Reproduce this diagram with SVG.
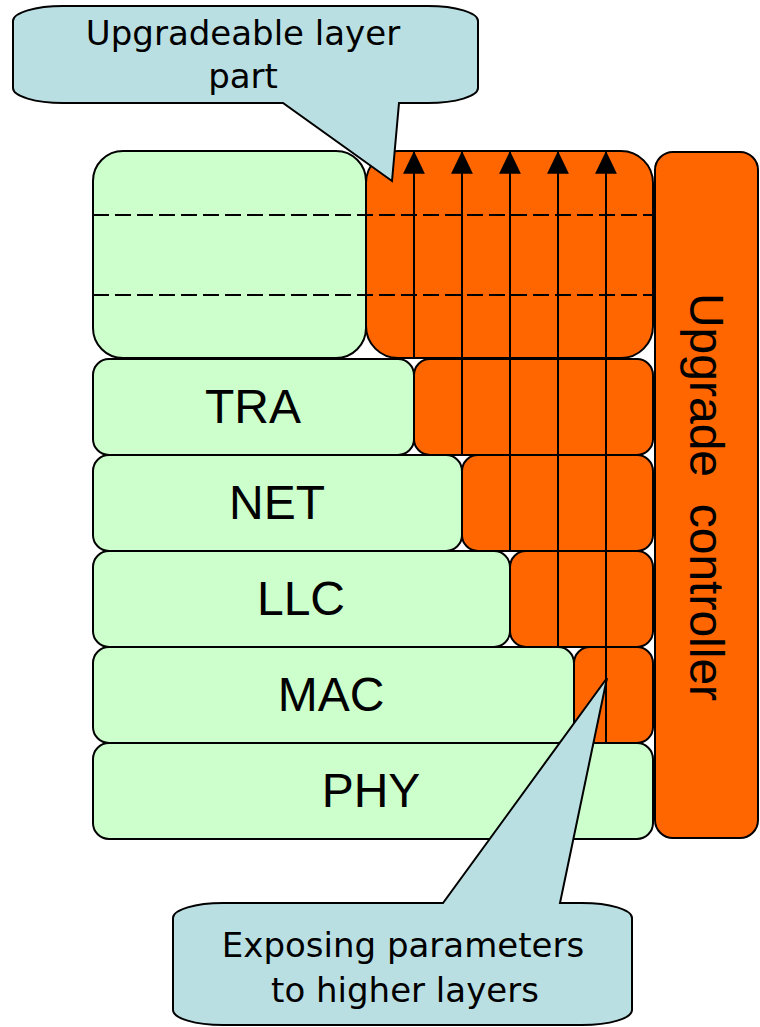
<svg xmlns="http://www.w3.org/2000/svg" width="760" height="1027" viewBox="0 0 760 1027">
<style>
.g{fill:#CCFFCC;stroke:#000;stroke-width:2}
.o{fill:#FF6600;stroke:#000;stroke-width:2}
.c{fill:#B9DFE3;stroke:#000;stroke-width:2}
.lbl{font-family:"Liberation Sans",Arial,sans-serif;font-size:48px;fill:#000;text-anchor:middle}
.ct{font-family:"DejaVu Sans",Verdana,sans-serif;font-size:34px;fill:#000;text-anchor:middle}
.d{stroke:#000;stroke-width:2;stroke-dasharray:16 6;fill:none}
.a{stroke:#000;stroke-width:2;fill:none;marker-end:url(#ah)}
</style>
<defs>
<marker id="ah" markerUnits="userSpaceOnUse" markerWidth="22" markerHeight="24" refX="10" refY="1" orient="0" viewBox="0 0 20 22" overflow="visible">
<path d="M10,0 L20,21 L0,21 Z" fill="#000"/>
</marker>
</defs>
<rect x="0" y="0" width="760" height="1027" fill="#fff"/>
<g id="top-layers">
<rect class="g" x="93" y="151" width="273" height="207" rx="30" ry="30"/>
<rect class="o" x="366" y="151" width="287" height="207" rx="32" ry="32"/>
</g>
<g id="tra">
<rect class="g" x="93" y="359" width="321" height="96" rx="16" ry="16"/>
<rect class="o" x="414" y="359" width="239" height="96" rx="16" ry="16"/>
<text class="lbl" x="253" y="423">TRA</text>
</g>
<g id="net">
<rect class="g" x="93" y="455" width="369" height="96" rx="16" ry="16"/>
<rect class="o" x="462" y="455" width="191" height="96" rx="16" ry="16"/>
<text class="lbl" x="277" y="519">NET</text>
</g>
<g id="llc">
<rect class="g" x="93" y="551" width="417" height="96" rx="16" ry="16"/>
<rect class="o" x="510" y="551" width="143" height="96" rx="16" ry="16"/>
<text class="lbl" x="301" y="615">LLC</text>
</g>
<g id="mac">
<rect class="g" x="93" y="647" width="481" height="96" rx="16" ry="16"/>
<rect class="o" x="574" y="647" width="79" height="96" rx="16" ry="16"/>
<text class="lbl" x="331" y="711">MAC</text>
</g>
<g id="phy">
<rect class="g" x="93" y="743" width="560" height="96" rx="16" ry="16"/>
<text class="lbl" x="371" y="807">PHY</text>
</g>
<g id="upgrade-controller">
<rect class="o" x="655" y="152" width="103" height="686" rx="18" ry="18"/>
<text class="lbl" transform="translate(690,497) rotate(90)" xml:space="preserve">Upgrade  controller</text>
</g>
<g id="connectors">
<line class="d" x1="93" y1="215" x2="653" y2="215"/>
<line class="d" x1="93" y1="295" x2="653" y2="295"/>
<line class="a" x1="414" y1="358" x2="414" y2="152"/>
<line class="a" x1="462" y1="455" x2="462" y2="152"/>
<line class="a" x1="510" y1="551" x2="510" y2="152"/>
<line class="a" x1="558" y1="647" x2="558" y2="152"/>
<line class="a" x1="606" y1="743" x2="606" y2="152"/>
</g>
<g id="callout-upgradeable">
<path class="c" d="M63,6 H428 A50 15 0 0 1 478 21 V88 A50 15 0 0 1 428 103 H399 L392 181 L283 103 H63 A50 15 0 0 1 13 88 V21 A50 15 0 0 1 63 6 Z"/>
<text class="ct" x="243" y="45">Upgradeable layer</text>
<text class="ct" x="243" y="88">part</text>
</g>
<g id="callout-exposing">
<path class="c" d="M223,903 H443 L607 678 L560 903 H582 A50 15 0 0 1 632 918 V1010 A50 15 0 0 1 582 1025 H223 A50 15 0 0 1 173 1010 V918 A50 15 0 0 1 223 903 Z"/>
<text class="ct" x="403" y="957">Exposing parameters</text>
<text class="ct" x="405" y="1002">to higher layers</text>
</g>
</svg>
